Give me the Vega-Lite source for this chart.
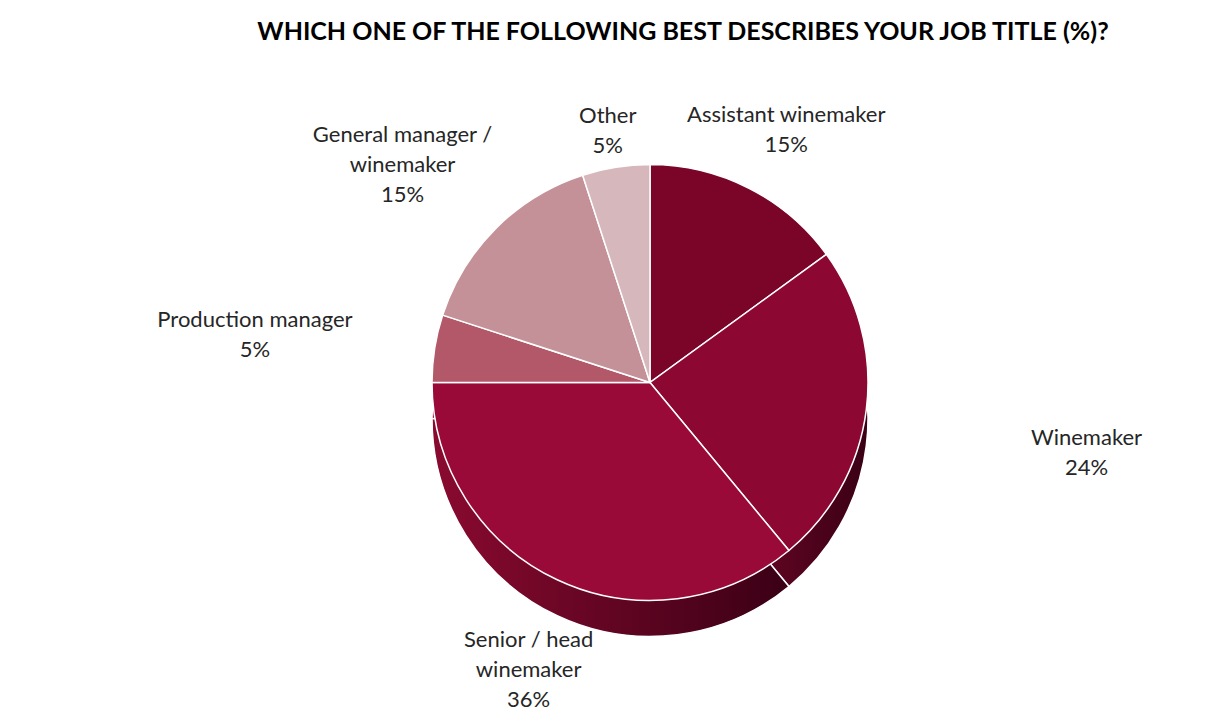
{
  "$schema": "https://vega.github.io/schema/vega-lite/v6.json",
  "width": 1210,
  "height": 720,
  "autosize": {"type": "fit", "contains": "padding"},
  "padding": {"left": 90, "top": 20, "right": 0, "bottom": 0},
  "background": "white",
  "title": {
    "text": "WHICH ONE OF THE FOLLOWING BEST DESCRIBES YOUR JOB TITLE (%)?",
    "font": "Lato",
    "fontSize": 25,
    "fontWeight": "bold",
    "color": "#000000",
    "anchor": "middle",
    "dx": 33,
    "offset": 0
  },
  "data": {
    "values": [
      {"order": 1, "title": "Assistant winemaker", "pct": 15},
      {"order": 2, "title": "Winemaker", "pct": 24},
      {"order": 3, "title": "Senior / head\nwinemaker", "pct": 36},
      {"order": 4, "title": "Production manager", "pct": 5},
      {"order": 5, "title": "General manager /\nwinemaker", "pct": 15},
      {"order": 6, "title": "Other", "pct": 5}
    ]
  },
  "transform": [
    {"calculate": "datum.title + '\\n' + datum.pct + '%'", "as": "label"}
  ],
  "encoding": {
    "theta": {"field": "pct", "type": "quantitative", "stack": true},
    "order": {"field": "order", "type": "quantitative"}
  },
  "layer": [
    {
      "mark": {
        "type": "arc",
        "outerRadius": 218,
        "yOffset": 36,
        "stroke": "white",
        "strokeWidth": 1.5,
        "color": {
          "gradient": "linear",
          "x1": 0, "x2": 1, "y1": 0, "y2": 0,
          "stops": [
            {"offset": 0, "color": "#8a0a30"},
            {"offset": 1, "color": "#3a0015"}
          ]
        }
      }
    },
    {
      "mark": {"type": "arc", "outerRadius": 218, "stroke": "white", "strokeWidth": 1.5},
      "encoding": {
        "color": {
          "field": "title",
          "type": "nominal",
          "scale": {
            "domain": ["Assistant winemaker", "Winemaker", "Senior / head\nwinemaker", "Production manager", "General manager /\nwinemaker", "Other"],
            "range": ["#7a0529", "#8c0833", "#9a0a38", "#b25868", "#c49198", "#d6b7bc"]
          },
          "legend": null
        }
      }
    },
    {
      "mark": {
        "type": "text",
        "font": "Lato",
        "fontSize": 22,
        "lineBreak": "\n",
        "lineHeight": 30,
        "color": "#262626",
        "radius": {"expr": "[300, 440, 285, 400, 350, 270][datum.order - 1]"}
      },
      "encoding": {
        "text": {"field": "label", "type": "nominal"}
      }
    }
  ]
}
